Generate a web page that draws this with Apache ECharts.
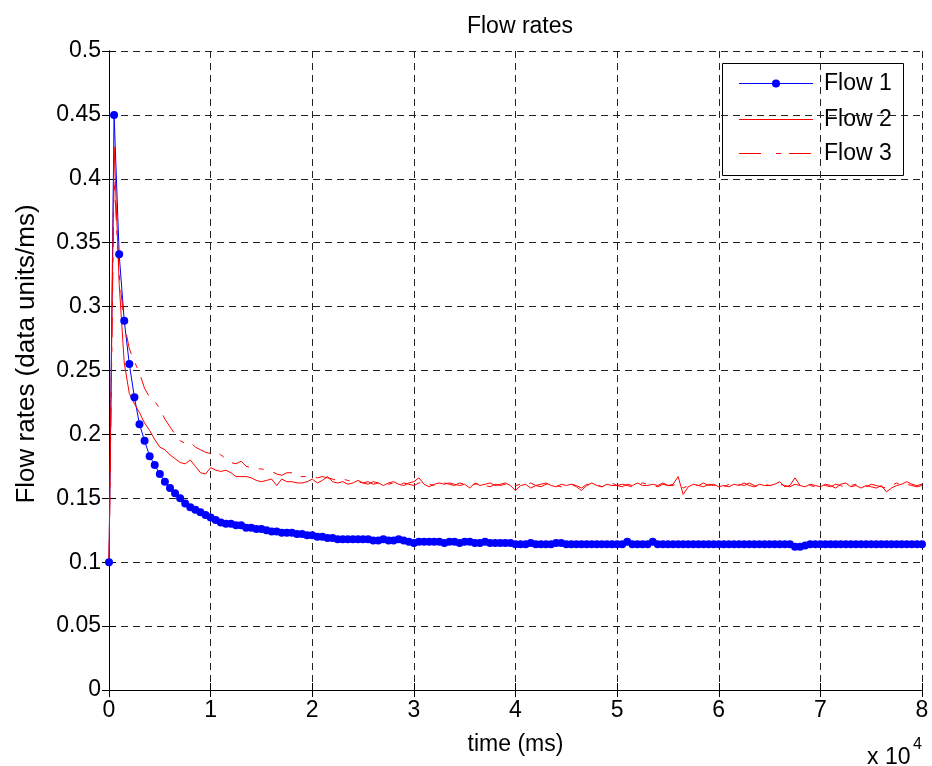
<!DOCTYPE html>
<html lang="en">
<head>
<meta charset="UTF-8">
<title>Flow rates</title>
<script src="https://cdn.jsdelivr.net/npm/echarts@6/dist/echarts.min.js"></script>
<style>
  html, body, #chart { width: 100%; height: 100%; margin: 0; padding: 0; overflow: hidden; background: #fff; }
</style>
</head>
<body>
<div id="chart"></div>
<script>
// samples every 500 ms, 0 .. 80000 ms
var sampleMs = 500;
var sampleCount = 161;
var xTicks = ['0', '1', '2', '3', '4', '5', '6', '7', '8'];
var seriesNames = ['Flow 1', 'Flow 2', 'Flow 3'];

var flow1 = [
  0.100, 0.450, 0.341, 0.289, 0.255, 0.229, 0.208, 0.195, 0.183, 0.176, 0.169,
  0.163, 0.158, 0.154, 0.150, 0.146, 0.143, 0.141, 0.139, 0.137, 0.135,
  0.133, 0.131, 0.130, 0.130, 0.129, 0.129, 0.127, 0.127, 0.126, 0.126,
  0.125, 0.124, 0.124, 0.123, 0.123, 0.123, 0.122, 0.122, 0.121, 0.121,
  0.120, 0.120, 0.119, 0.119, 0.118, 0.118, 0.118, 0.118, 0.118, 0.118,
  0.118, 0.117, 0.117, 0.118, 0.117, 0.117, 0.118, 0.117, 0.116, 0.115,
  0.116, 0.116, 0.116, 0.116, 0.116, 0.115, 0.116, 0.116, 0.115, 0.116,
  0.116, 0.115, 0.115, 0.116, 0.115, 0.115, 0.115, 0.115, 0.115, 0.114,
  0.114, 0.114, 0.115, 0.114, 0.114, 0.114, 0.114, 0.115, 0.115, 0.114,
  0.114, 0.114, 0.114, 0.114, 0.114, 0.114, 0.114, 0.114, 0.114, 0.114,
  0.114, 0.116, 0.114, 0.114, 0.114, 0.114, 0.116, 0.114, 0.114, 0.114,
  0.114, 0.114, 0.114, 0.114, 0.114, 0.114, 0.114, 0.114, 0.114, 0.114,
  0.114, 0.114, 0.114, 0.114, 0.114, 0.114, 0.114, 0.114, 0.114, 0.114,
  0.114, 0.114, 0.114, 0.114, 0.112, 0.112, 0.113, 0.114, 0.114, 0.114,
  0.114, 0.114, 0.114, 0.114, 0.114, 0.114, 0.114, 0.114, 0.114, 0.114,
  0.114, 0.114, 0.114, 0.114, 0.114, 0.114, 0.114, 0.114, 0.114, 0.114
];

var flow2 = [
  0.100, 0.425, 0.318, 0.256, 0.232, 0.224, 0.217, 0.209, 0.203, 0.196, 0.190,
  0.188, 0.184, 0.181, 0.178, 0.177, 0.180, 0.175, 0.170, 0.169, 0.174,
  0.172, 0.171, 0.172, 0.170, 0.167, 0.167, 0.167, 0.166, 0.164, 0.163,
  0.164, 0.165, 0.160, 0.165, 0.163, 0.163, 0.162, 0.162, 0.163, 0.165,
  0.162, 0.164, 0.167, 0.163, 0.162, 0.163, 0.161, 0.162, 0.164, 0.162,
  0.161, 0.163, 0.162, 0.160, 0.162, 0.163, 0.161, 0.160, 0.162, 0.163,
  0.166, 0.161, 0.159, 0.161, 0.162, 0.161, 0.162, 0.161, 0.160, 0.161,
  0.158, 0.162, 0.160, 0.161, 0.162, 0.160, 0.161, 0.162, 0.160, 0.156,
  0.160, 0.161, 0.158, 0.160, 0.161, 0.162, 0.160, 0.159, 0.161, 0.160,
  0.161, 0.159, 0.156, 0.160, 0.162, 0.160, 0.159, 0.161, 0.160, 0.160,
  0.159, 0.161, 0.160, 0.162, 0.160, 0.160, 0.161, 0.160, 0.162, 0.160,
  0.161, 0.167, 0.153, 0.159, 0.161, 0.160, 0.162, 0.160, 0.161, 0.159,
  0.160, 0.159, 0.161, 0.160, 0.162, 0.160, 0.159, 0.161, 0.160, 0.160,
  0.161, 0.163, 0.159, 0.160, 0.166, 0.160, 0.159, 0.161, 0.160, 0.159,
  0.161, 0.160, 0.158, 0.161, 0.162, 0.159, 0.160, 0.158, 0.160, 0.159,
  0.158, 0.160, 0.155, 0.158, 0.160, 0.161, 0.163, 0.161, 0.160, 0.161
];

var flow3 = [
  0.100, 0.400, 0.325, 0.287, 0.267, 0.257, 0.248, 0.236, 0.229, 0.226, 0.220,
  0.212, 0.206, 0.200, 0.195, 0.193, 0.194, 0.190, 0.188, 0.186, 0.185,
  0.186, 0.184, 0.181, 0.178, 0.177, 0.179, 0.175, 0.174, 0.173, 0.173,
  0.172, 0.171, 0.169, 0.168, 0.170, 0.170, 0.167, 0.167, 0.167, 0.167,
  0.166, 0.167, 0.166, 0.165, 0.164, 0.165, 0.164, 0.163, 0.163, 0.162,
  0.163, 0.161, 0.162, 0.163, 0.161, 0.162, 0.160, 0.162, 0.161, 0.160,
  0.162, 0.163, 0.161, 0.160, 0.161, 0.162, 0.161, 0.160, 0.162, 0.161,
  0.160, 0.161, 0.162, 0.160, 0.159, 0.161, 0.160, 0.161, 0.159, 0.160,
  0.161, 0.160, 0.162, 0.160, 0.159, 0.161, 0.162, 0.160, 0.159, 0.160,
  0.161, 0.160, 0.158, 0.161, 0.160, 0.161, 0.159, 0.160, 0.162, 0.160,
  0.161, 0.160, 0.159, 0.161, 0.162, 0.161, 0.160, 0.159, 0.161, 0.160,
  0.160, 0.162, 0.158, 0.160, 0.161, 0.160, 0.159, 0.161, 0.160, 0.161,
  0.159, 0.161, 0.160, 0.161, 0.160, 0.162, 0.160, 0.159, 0.161, 0.160,
  0.160, 0.161, 0.160, 0.159, 0.161, 0.160, 0.161, 0.160, 0.159, 0.161,
  0.160, 0.159, 0.161, 0.160, 0.158, 0.160, 0.161, 0.160, 0.159, 0.161,
  0.160, 0.159, 0.158, 0.160, 0.162, 0.160, 0.161, 0.160, 0.159, 0.160
];

var time = [];
for (var i = 0; i < sampleCount; i++) time.push(i * sampleMs);

function pairs(values) {
  return values.map(function (v, i) { return [time[i], v]; });
}

var font = 'Liberation Sans, Arial, sans-serif';
var fs = 23;
var blue = '#0000ff';
var red = '#ff0000';
var dashDot = [20, 10, 5, 10];
var gridDash = { color: '#222', width: 1, type: [7, 5] };

// hand-built legend box (the built-in legend mixed up the swatch colours)
function legendRow(y, name, color, dash, dot) {
  var kids = [{
    type: 'line',
    shape: { x1: 17, y1: y, x2: 91, y2: y },
    style: { stroke: color, lineWidth: 1, lineDash: dash || null }
  }, {
    type: 'text', x: 102, y: y,
    style: { text: name, fontFamily: font, fontSize: fs, fill: '#000', verticalAlign: 'middle' }
  }];
  if (dot) {
    kids.push({ type: 'circle', shape: { cx: 54, cy: y, r: 4 }, style: { fill: color } });
  }
  return kids;
}

var legendChildren = [{
  type: 'rect',
  shape: { x: 0.5, y: 0.5, width: 181, height: 112 },
  style: { fill: '#fff', stroke: '#000', lineWidth: 1 }
}].concat(
  legendRow(20.5, seriesNames[0], blue, null, true),
  legendRow(56.5, seriesNames[1], red, null, false),
  legendRow(90.5, seriesNames[2], red, [22, 15, 5, 8], false)
);

var chart = echarts.init(document.getElementById('chart'), null, { renderer: 'canvas' });

var option = {
  animation: false,
  backgroundColor: '#fff',
  textStyle: { fontFamily: font, color: '#000' },
  title: {
    text: 'Flow rates',
    left: 515, top: 10, textAlign: 'center',
    textStyle: { fontFamily: font, fontSize: fs, fontWeight: 'normal', color: '#000' }
  },
  grid: { left: 109, right: 10, top: 51, bottom: 76, containLabel: false },
  xAxis: [{
    type: 'value', min: 0, max: 80000, interval: 10000,
    name: 'time (ms)', nameLocation: 'middle', nameGap: 43,
    nameTextStyle: { fontFamily: font, fontSize: fs, color: '#000' },
    axisLine: { lineStyle: { color: '#000', width: 1 } },
    axisTick: { inside: true, length: 7, lineStyle: { color: '#000' } },
    axisLabel: {
      fontFamily: font, fontSize: fs, color: '#000', margin: 9,
      formatter: function (v) { return xTicks[Math.round(v / 10000)]; }
    },
    splitLine: { show: true, lineStyle: gridDash }
  }, {
    type: 'value', min: 0, max: 80000, interval: 10000, position: 'top',
    axisLine: { show: true, lineStyle: { color: '#000', width: 1 } },
    axisTick: { inside: true, length: 7, lineStyle: { color: '#000' } },
    axisLabel: { show: false },
    splitLine: { show: false }
  }],
  yAxis: [{
    type: 'value', min: 0, max: 0.5, interval: 0.05,
    axisLine: { show: true, lineStyle: { color: '#000', width: 1 } },
    axisTick: { show: true, inside: true, length: 7, lineStyle: { color: '#000' } },
    axisLabel: {
      fontFamily: font, fontSize: fs, color: '#000', margin: 8,
      formatter: function (v) { return String(+v.toFixed(2)); }
    },
    splitLine: { show: true, lineStyle: gridDash }
  }, {
    type: 'value', min: 0, max: 0.5, interval: 0.05, position: 'right',
    axisLine: { show: true, lineStyle: { color: '#000', width: 1 } },
    axisTick: { show: true, inside: true, length: 7, lineStyle: { color: '#000' } },
    axisLabel: { show: false },
    splitLine: { show: false }
  }],
  graphic: [{
    // y axis title
    type: 'text', x: 27, y: 354, rotation: Math.PI / 2,
    style: {
      text: 'Flow rates (data units/ms)', fontFamily: font, fontSize: 26, fill: '#000',
      align: 'center', verticalAlign: 'middle'
    }
  }, {
    type: 'text', x: 867, y: 758,
    style: { text: 'x 10', fontFamily: font, fontSize: fs, fill: '#000', verticalAlign: 'middle' }
  }, {
    type: 'text', x: 913, y: 745,
    style: { text: '4', fontFamily: font, fontSize: 16, fill: '#000', verticalAlign: 'middle' }
  }, {
    type: 'group', x: 722, y: 63, z: 100,
    children: legendChildren
  }],
  series: [{
    name: seriesNames[0], type: 'line',
    data: pairs(flow1),
    symbol: 'circle', symbolSize: 8, showAllSymbol: true,
    itemStyle: { color: blue },
    lineStyle: { color: blue, width: 1 }
  }, {
    name: seriesNames[1], type: 'line',
    data: pairs(flow2),
    symbol: 'none',
    itemStyle: { color: red },
    lineStyle: { color: red, width: 1 }
  }, {
    name: seriesNames[2], type: 'line',
    data: pairs(flow3),
    symbol: 'none',
    itemStyle: { color: red },
    lineStyle: { color: red, width: 1, type: dashDot }
  }]
};

chart.setOption(option);
</script>
</body>
</html>
